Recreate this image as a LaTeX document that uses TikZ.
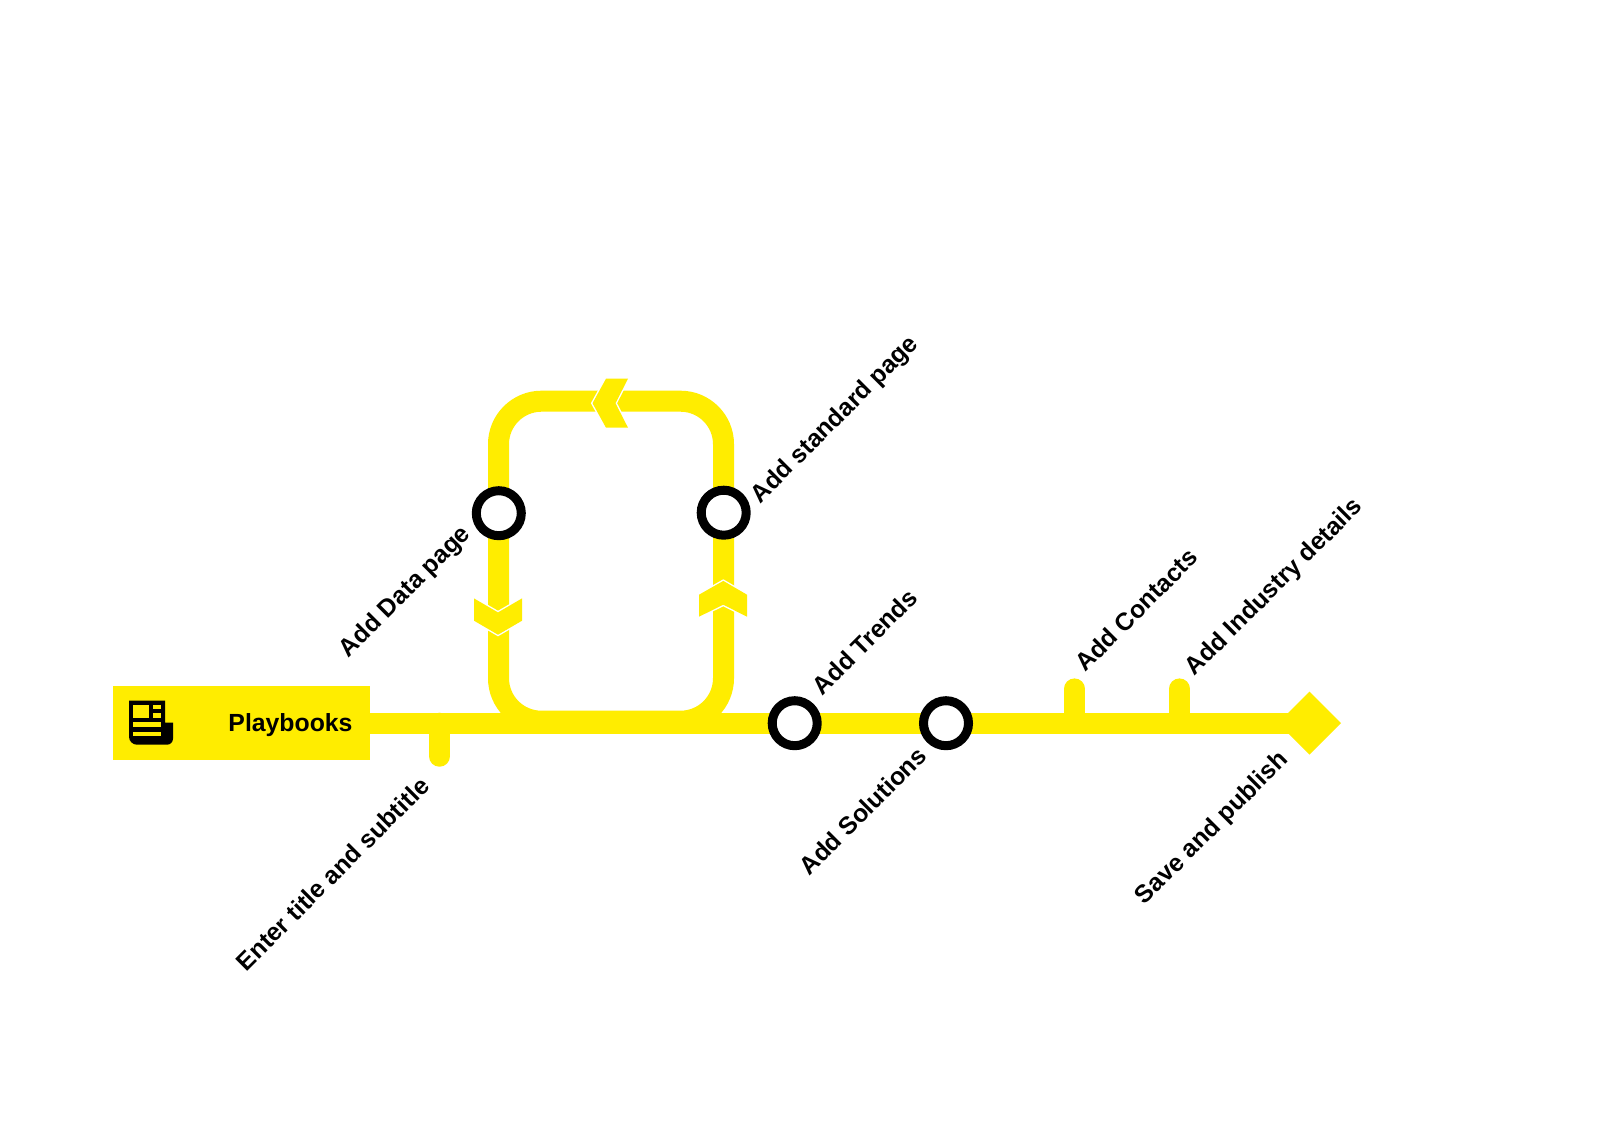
\documentclass[tikz,border=0pt]{standalone}
\usepackage{fontspec}
\setmainfont{Liberation Sans}
\definecolor{lineyellow}{HTML}{FFED00}
\tikzset{
  track/.style={draw=lineyellow,line width=21pt},
  stub/.style={draw=lineyellow,line width=21pt,line cap=round},
  station/.style={circle,draw=black,fill=white,line width=9pt,minimum size=45pt,inner sep=0pt,outer sep=0pt},
  chevron/.style={fill=lineyellow,preaction={draw=white,line width=2.8pt,miter limit=10}},
  lbl/.style={font=\bfseries\fontsize{24.8pt}{28pt}\selectfont,text=black,inner sep=0pt},
  tilted/.style={lbl,rotate=45},
  iconhole/.style={fill=lineyellow},
}
\begin{document}
\begin{tikzpicture}[x=1pt,y=-1pt]
\useasboundingbox (0,0) rectangle (1614,1135);
\fill[white] (0,0) rectangle (1614,1135);
\begin{scope}[yshift=-0.7pt]
% anchors
\coordinate (lineA) at (370,722.5);
\coordinate (stubA) at (439.5,722.5);
\coordinate (stubAend) at (439.5,755.5);
\coordinate (stubB) at (1074.5,722.5);
\coordinate (stubBend) at (1074.5,688.2);
\coordinate (stubC) at (1179.5,722.5);
\coordinate (stubCend) at (1179.5,688.2);
\coordinate (lineEnd) at (1309.5,722.5);
% loop
\draw[track] (541.5,720.5) arc[start angle=90,end angle=180,radius=43]
  -- (498.5,443.5) arc[start angle=180,end angle=270,radius=43]
  -- (680.5,400.5) arc[start angle=270,end angle=360,radius=43]
  -- (723.5,677.5) arc[start angle=0,end angle=90,radius=43] -- cycle;
% main line
\draw[track] (lineA) -- (lineEnd);
\draw[stub] (stubA) -- (stubAend);
\draw[stub] (stubB) -- (stubBend);
\draw[stub] (stubC) -- (stubCend);
% terminal diamond
\fill[lineyellow] (1309.5,691) -- (1341,722.5) -- (1309.5,754) -- (1278,722.5) -- cycle;
% chevrons
\path[chevron] (628,378) -- (606,378) -- (592.5,402.5) -- (606,427) -- (628,427) -- (615.5,402.5) -- cycle;
\path[chevron] (474,597.7) -- (498,611.7) -- (522,597.7) -- (522,620) -- (498,634) -- (474,620) -- cycle;
\path[chevron] (723.3,580.2) -- (747,594) -- (747,616) -- (723.3,604) -- (699,616) -- (699,594) -- cycle;
% stations
\node[station] (data) at (498.8,512.5) {};
\node[station] (standard) at (723.7,512) {};
\node[station] (trends) at (794.7,722.5) {};
\node[station] (solutions) at (946,722.5) {};
% header
\fill[lineyellow] (113,685) rectangle (370,759);
\node[lbl,anchor=base] (playbooks) at (290.5,730.7) {Playbooks};
% icon
\fill[black] (129,700) -- (165,700) -- (165,722) -- (173,722) -- (173,738) arc[start angle=0,end angle=90,radius=6] -- (137,744) arc[start angle=90,end angle=180,radius=8] -- cycle;
\fill[iconhole] (133,704) rectangle (149.3,717);
\fill[iconhole] (153.3,704) rectangle (161,708);
\fill[iconhole] (153.3,712) rectangle (161,717);
\fill[iconhole] (133,721) rectangle (161,726);
\fill[iconhole] (133,731) rectangle (161,735);
% labels
\node[tilted] (l1) at (835.5,419.5) {Add standard page};
\node[tilted] (l2) at (405.7,591.5) {Add Data page};
\node[tilted] (l3) at (864.6,641) {Add Trends};
\node[tilted] (l4) at (1136.3,609) {Add Contacts};
\node[tilted] (l5) at (1274.5,587) {Add Industry details};
\node[tilted] (l6) at (332.5,873) {Enter title and subtitle};
\node[tilted] (l7) at (862.6,810) {Add Solutions};
\node[tilted] (l8) at (1212.5,828) {Save and publish};
\end{scope}
\end{tikzpicture}
\end{document}
